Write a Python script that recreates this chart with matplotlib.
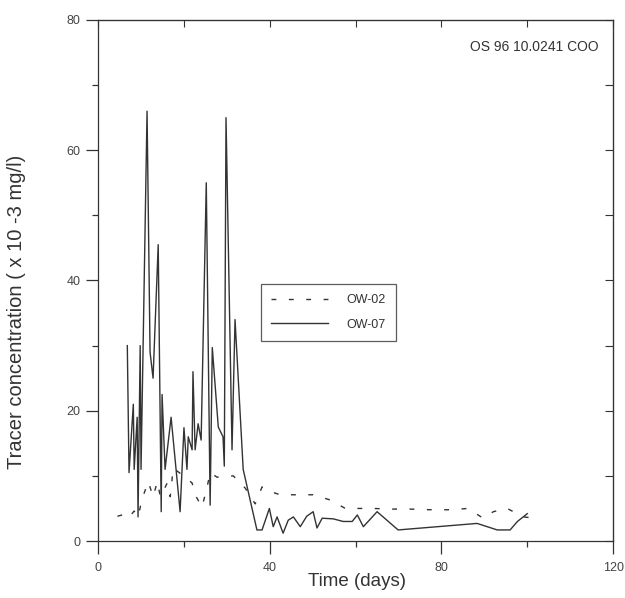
import numpy as np
import matplotlib.pyplot as plt
from matplotlib.ticker import MultipleLocator

plt.rcParams['font.family'] = ['Liberation Sans', 'DejaVu Sans']

# OW-07 (solid line)
ow07_days = [6.8, 7.2, 8.2, 8.4, 9.1, 9.3, 9.8, 10.0, 11.4, 12.1, 12.8, 14.0,
             14.7, 14.9, 15.6, 17.0, 19.1, 20.0, 20.7, 21.0, 21.9, 22.1, 22.6,
             23.3, 24.0, 25.2, 26.1, 26.6, 28.0, 29.1, 29.4, 29.8, 31.2, 31.9,
             33.8, 37.0, 38.2, 39.9, 40.8, 41.7, 43.1, 44.3, 45.5, 47.1, 48.6,
             50.1, 51.0, 52.2, 54.8, 57.1, 59.2, 60.4, 61.8, 65.0, 69.9, 88.3,
             93.0, 96.0, 97.7, 100.0]
ow07_conc = [30.0, 10.5, 21.0, 11.0, 19.0, 3.7, 30.0, 11.0, 66.0, 29.0, 25.0,
             45.5, 4.5, 22.5, 11.0, 19.0, 4.5, 17.4, 11.0, 16.0, 14.0, 26.0,
             14.0, 18.0, 15.5, 55.0, 5.5, 29.7, 17.5, 16.0, 11.5, 65.0, 14.0,
             34.0, 11.0, 1.7, 1.7, 5.0, 2.2, 3.7, 1.2, 3.2, 3.7, 2.2, 3.8,
             4.5, 2.0, 3.5, 3.4, 3.0, 3.0, 4.0, 2.2, 4.5, 1.7, 2.7,
             1.7, 1.7, 3.0, 4.2]

# OW-02 (dashed line)
ow02_days = [4.5, 5.6, 7.0, 8.4, 9.3, 10.3, 11.7, 12.8, 13.8, 14.5, 16.1,
             16.8, 17.5, 20.3, 21.9, 22.6, 24.2, 25.4, 26.1, 27.7, 31.5,
             34.3, 36.6, 38.2, 40.1, 42.4, 44.3, 47.1, 50.1, 54.1, 57.6,
             64.1, 68.1, 72.7, 77.4, 82.0, 86.2, 89.7, 92.1, 95.3, 99.1, 101.9]
ow02_conc = [3.8, 4.0, 3.5, 4.6, 3.7, 6.6, 9.1, 6.8, 9.1, 6.8, 8.9,
             6.8, 11.2, 9.8, 8.9, 7.1, 5.2, 8.3, 10.5, 9.8, 10.0,
             8.1, 5.7, 8.3, 7.6, 7.1, 7.1, 7.1, 7.1, 6.3, 5.0,
             5.0, 4.9, 4.9, 4.8, 4.8, 5.0, 3.5, 4.5, 5.0, 3.7, 3.5]

fig = plt.figure(figsize=(6.25, 5.98), dpi=100)
ax = fig.add_axes([0.157, 0.0953, 0.824, 0.8713])

ax.plot(ow02_days, ow02_conc, color='#333333', lw=1.0, linestyle=(0, (3.5, 9)), label='OW-02')
ax.plot(ow07_days, ow07_conc, color='#333333', lw=1.0, label='OW-07')

ax.set_xlim(0, 120)
ax.set_ylim(0, 80)
ax.xaxis.set_major_locator(MultipleLocator(40))
ax.xaxis.set_minor_locator(MultipleLocator(20))
ax.yaxis.set_major_locator(MultipleLocator(20))
ax.yaxis.set_minor_locator(MultipleLocator(10))
ax.tick_params(which='major', direction='out', length=9, width=0.9, labelsize=9,
               labelcolor='#444444', color='#333333')
ax.tick_params(which='minor', direction='out', length=4, width=0.9, color='#333333')
ax.tick_params(axis='x', which='major', pad=6)

# inward ticks on the right and top
sec_y = ax.secondary_yaxis('right')
sec_y.yaxis.set_major_locator(MultipleLocator(10))
sec_y.tick_params(direction='in', length=6, labelright=False, color='#333333')
sec_x = ax.secondary_xaxis('top')
sec_x.xaxis.set_major_locator(MultipleLocator(20))
sec_x.tick_params(direction='in', length=5, labeltop=False, color='#333333')
for s in ax.spines.values():
    s.set_color('#333333')
    s.set_linewidth(0.9)
sec_y.spines['right'].set_color('#333333')
sec_x.spines['top'].set_color('#333333')

ax.set_xlabel('Time (days)', fontsize=13.5, color='#333333')
ax.set_ylabel('Tracer concentration ( x 10 -3 mg/l)', fontsize=14.5, color='#333333')
ax.xaxis.set_label_coords(0.503, -0.062)
ax.yaxis.set_label_coords(-0.14, 0.44)

ax.text(0.847, 0.948, 'OS 96 10.0241 COO', transform=ax.transAxes, ha='center', va='center',
        fontsize=10, color='#333333')

leg = ax.legend(loc='upper left', bbox_to_anchor=(0.317, 0.493), fontsize=9,
                frameon=True, fancybox=False, edgecolor='#333333', handlelength=4.5,
                borderpad=0.8, labelspacing=1.0, handletextpad=1.5, borderaxespad=0)
leg.get_frame().set_linewidth(0.9)
for t in leg.get_texts():
    t.set_color('#333333')

fig.savefig('out.png', dpi=100)
